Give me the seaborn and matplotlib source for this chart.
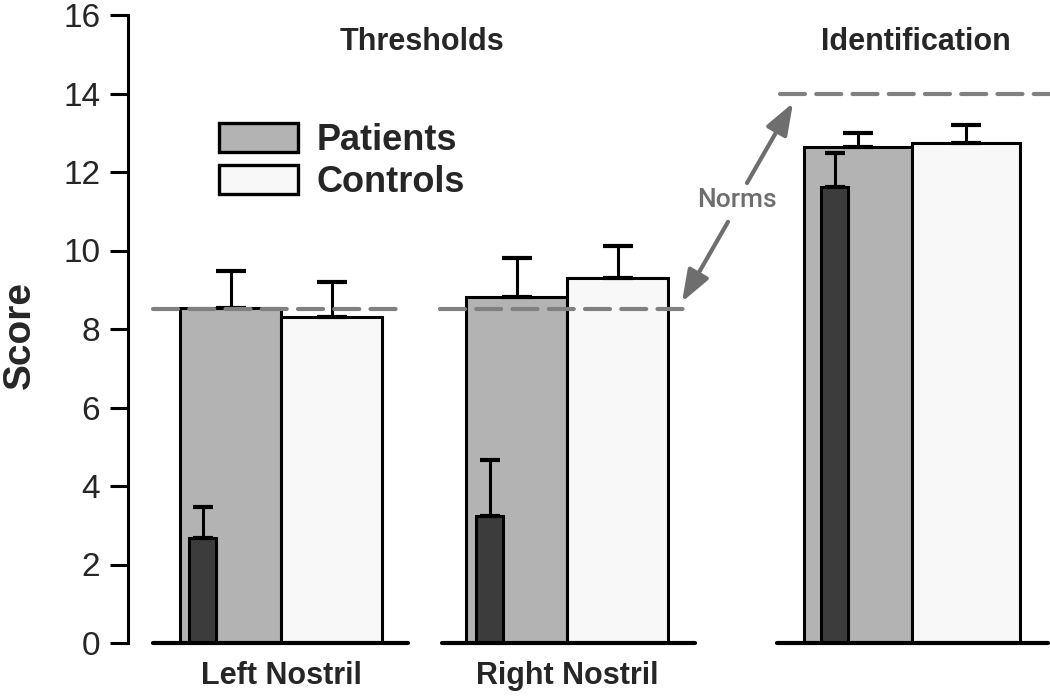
import pandas as pd
import numpy as np
import matplotlib
matplotlib.use('Agg')
import matplotlib.pyplot as plt
from matplotlib.patches import Patch
from matplotlib import font_manager
import seaborn as sns

# values
groups = ['Left Nostril', 'Right Nostril', 'Identification']
patients_mean = [8.54, 8.82, 12.64]
patients_err = [0.94, 0.99, 0.35]
controls_mean = [8.31, 9.31, 12.74]
controls_err = [0.89, 0.80, 0.46]
case_mean = [2.68, 3.24, 11.62]   # single patient (dark bar)
case_err = [0.78, 1.42, 0.86]
norms = [8.5, 8.5, 14.0]

# layout (x axis runs in figure pixels)
centers = [281, 567, 912]
pair_width = [202, 202, 216]
case_left = [189, 476, 821]
case_width = 27
norm_span = [(153, 398), (440, 690), (780, 1050)]
base_span = [(153, 408), (442, 695), (777, 1048)]

grey = '#b3b3b3'
white = '#f8f8f8'
dark = '#3c3c3c'

sns.set_style('ticks')
plt.rcParams['font.family'] = ['Liberation Sans', 'DejaVu Sans']

# narrow bold for headings if available
installed = {f.name for f in font_manager.fontManager.ttflist}
if 'Liberation Sans Narrow' in installed:
    narrow, head_size = ['Liberation Sans Narrow'], 26
else:
    narrow, head_size = ['Liberation Sans'], 22

fig = plt.figure(figsize=(10.5, 6.97), dpi=100)
ax = fig.add_axes([128 / 1050, 54 / 697, 922 / 1050, 628 / 697])

df = pd.DataFrame({
    'pos': centers * 2,
    'cond': ['Patients'] * 3 + ['Controls'] * 3,
    'score': patients_mean + controls_mean,
})
pal = {'Patients': grey, 'Controls': white}

thr = df[df['pos'] != centers[2]]
ide = df[df['pos'] == centers[2]]
sns.barplot(data=thr, x='pos', y='score', hue='cond', hue_order=['Patients', 'Controls'],
            palette=pal, native_scale=True, orient='x', saturation=1,
            width=pair_width[0] / (centers[1] - centers[0]),
            edgecolor='black', linewidth=2.2, legend=False, ax=ax, zorder=2)
sns.barplot(data=ide, x='pos', y='score', hue='cond', hue_order=['Patients', 'Controls'],
            palette=pal, native_scale=True, orient='x', saturation=1,
            width=pair_width[2], edgecolor='black', linewidth=2.2,
            legend=False, ax=ax, zorder=2)

# single patient bars inside the patient bars
ax.bar(case_left, case_mean, width=case_width, align='edge', color=dark,
       edgecolor='black', linewidth=2.2, zorder=3)

# upper error bars
p_x = [c - w / 4 for c, w in zip(centers, pair_width)]
c_x = [c + w / 4 for c, w in zip(centers, pair_width)]
k_x = [l + case_width / 2 for l in case_left]
for xs, ys, es, cs in [(p_x, patients_mean, patients_err, 11),
                       (c_x, controls_mean, controls_err, 11),
                       (k_x, case_mean, case_err, 7.5)]:
    ax.errorbar(xs, ys, yerr=[np.zeros(3), es], fmt='none', ecolor='black',
                elinewidth=2.2, capsize=cs, capthick=3, zorder=4)

# norm lines
for (x0, x1), n in zip(norm_span, norms):
    ax.plot([x0, x1], [n, n], color='#808080', lw=3, ls=(0, (6, 2.7)),
            dash_capstyle='round', zorder=5)

# baselines per group
for x0, x1 in base_span:
    ax.plot([x0, x1], [0, 0], color='black', lw=3, solid_capstyle='round',
            zorder=6, clip_on=False)

# arrows + label
arrow = dict(arrowstyle='-|>,head_length=0.6,head_width=0.22', lw=3,
             color='#6e6e6e', shrinkA=0, shrinkB=0, mutation_scale=32)
ax.annotate('', xy=(793, 13.76), xytext=(747, 11.72), arrowprops=arrow)
ax.annotate('', xy=(682, 8.69), xytext=(728, 10.73), arrowprops=arrow)
ax.text(737, 11.29, 'Norms', ha='center', va='center', color='#6e6e6e',
        fontsize=19, fontweight='medium', family=['Roboto', 'DejaVu Sans'])

# headings and group labels
ax.text(422, 15.3, 'Thresholds', ha='center', va='center', fontsize=head_size,
        fontweight='bold', family=narrow)
ax.text(916, 15.3, 'Identification', ha='center', va='center', fontsize=head_size,
        fontweight='bold', family=narrow)
for c, g in zip(centers[:2], groups[:2]):
    ax.text(c, -0.84, g, ha='center', va='center', fontsize=head_size,
            fontweight='bold', family=narrow, clip_on=False)

# legend
handles = [Patch(facecolor=grey, edgecolor='black', linewidth=2.4, label='Patients'),
           Patch(facecolor=white, edgecolor='black', linewidth=2.4, label='Controls')]
leg = ax.legend(handles=handles, loc='upper left', bbox_to_anchor=(219 / 1050, 1 - 123 / 697),
                bbox_transform=fig.transFigure, frameon=False, borderpad=0,
                borderaxespad=0, handlelength=2.2, handleheight=0.85,
                handletextpad=0.5, labelspacing=0.2,
                prop={'size': 26, 'weight': 'bold'})

ax.set_xlim(128, 1050)
ax.set_ylim(0, 16)
ax.set_yticks(range(0, 17, 2))
ax.set_xticks([])
ax.set_xlabel('')
ax.set_ylabel('')
fig.text(20 / 1050, 1 - 335 / 697, 'Score', rotation=90, ha='center', va='center',
         fontsize=28, fontweight='bold')
ax.tick_params(axis='y', labelsize=24, length=13, width=2.2, pad=7, color='black')
for s in ['top', 'right', 'bottom']:
    ax.spines[s].set_visible(False)
ax.spines['left'].set_linewidth(2.2)
ax.spines['left'].set_color('black')

fig.savefig('out.png', dpi=100)
